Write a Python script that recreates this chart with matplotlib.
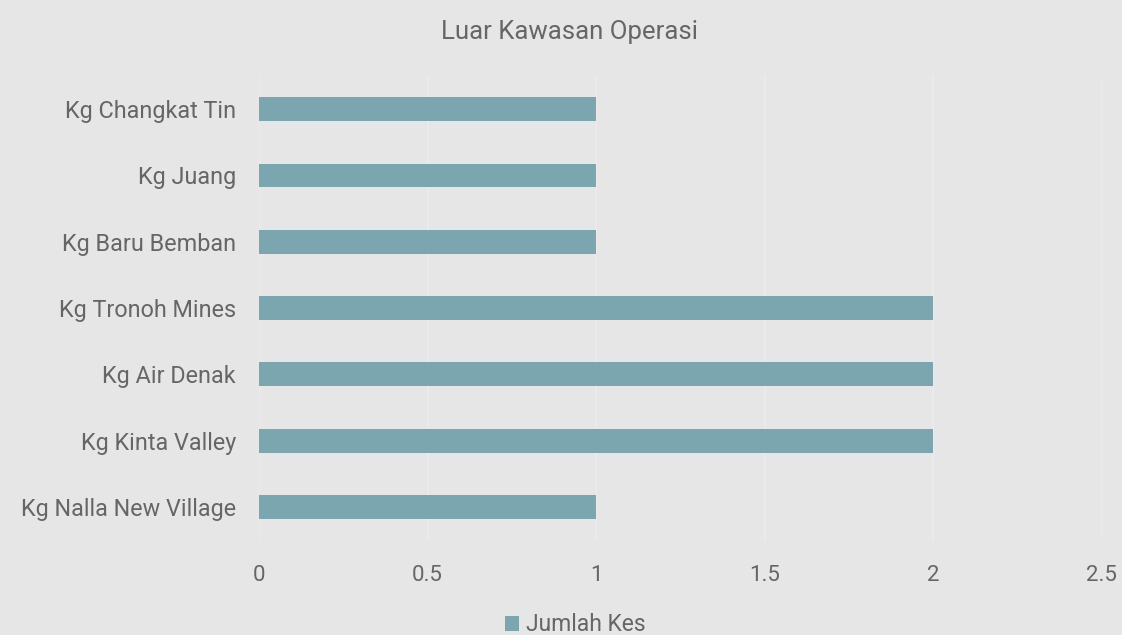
import matplotlib
matplotlib.use("Agg")
import matplotlib.pyplot as plt
from matplotlib.patches import Patch

categories = ["Kg Nalla New Village", "Kg Kinta Valley", "Kg Air Denak",
              "Kg Tronoh Mines", "Kg Baru Bemban", "Kg Juang", "Kg Changkat Tin"]
values = [1, 2, 2, 2, 1, 1, 1]
xticks = [0, 0.5, 1, 1.5, 2, 2.5]
xticklabels = ["0", "0.5", "1", "1.5", "2", "2.5"]
title = "Luar Kawasan Operasi"
series_name = "Jumlah Kes"

bg = "#e6e6e6"
bar_color = "#7ba6b0"
text_color = "#666666"

plt.rcParams["font.family"] = ["Roboto", "DejaVu Sans"]

fig = plt.figure(figsize=(11.22, 6.35), dpi=100, facecolor=bg)
ax = fig.add_axes([0.2308, 0.1496, 0.7512, 0.7307], facecolor=bg)

ypos = list(range(len(categories)))
ax.barh(ypos, values, height=0.36, color=bar_color, zorder=3)
ax.set_xlim(0, 2.5)
ax.set_ylim(-0.5, len(categories) - 0.5)
ax.set_yticks(ypos)
ax.set_yticklabels(categories, fontsize=16.8, color=text_color)
ax.set_xticks(xticks)
ax.set_xticklabels(xticklabels, fontsize=16, color=text_color)
ax.tick_params(axis="both", length=0)
ax.tick_params(axis="y", pad=16.5)
ax.tick_params(axis="x", pad=18)
ax.grid(axis="x", color="#ececec", linewidth=1.2, zorder=0)
for s in ax.spines.values():
    s.set_visible(False)

fig.text(0.508, 0.95, title, ha="center", va="center", fontsize=18.5, color=text_color)

handles = [Patch(facecolor=bar_color, label=series_name)]
fig.legend(handles=handles, loc="center", bbox_to_anchor=(0.513, 0.016), frameon=False,
           fontsize=16.5, labelcolor=text_color, handlelength=0.6, handleheight=0.6,
           handletextpad=0.3, borderpad=0)

fig.savefig("out.png", dpi=100, facecolor=bg)
